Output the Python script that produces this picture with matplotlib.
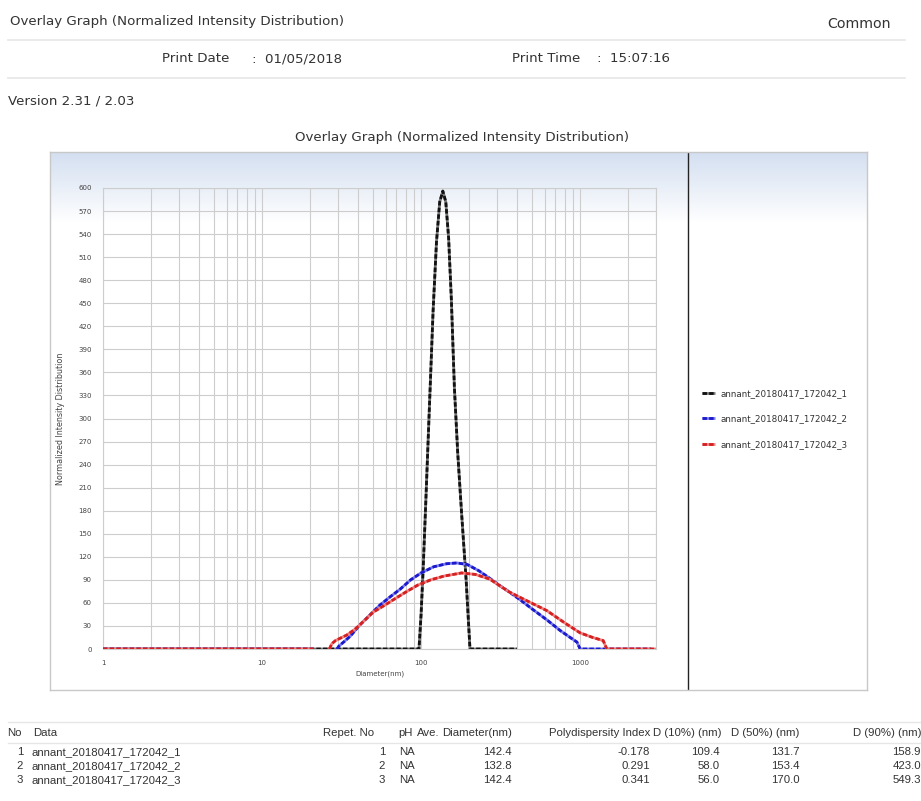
import numpy as np
import matplotlib
matplotlib.use("Agg")
import matplotlib.pyplot as plt
from matplotlib.lines import Line2D
from matplotlib.ticker import FixedLocator, NullFormatter, LogLocator

# ---------------- data ----------------
series_names = ["annant_20180417_172042_1", "annant_20180417_172042_2", "annant_20180417_172042_3"]

black_d = [1, 97, 100, 103, 107, 112, 119, 125, 131, 137, 143, 149, 155, 162, 170, 180, 192, 198, 203, 400]
black_i = [0, 0, 45, 103, 190, 298, 440, 530, 582, 596, 582, 535, 455, 340, 255, 175, 90, 40, 0, 0]

blue_d = [1, 21, np.nan, 29.6, 30.5, 33, 36, 41, 47, 55, 64, 74, 86, 100, 120, 145, 168, 195, 230, 270, 320, 360,
          420, 500, 617, 750, 880, 955, 1000, 2800]
blue_i = [0, 0, np.nan, 0, 4, 10, 17, 31, 43, 57, 68, 78, 90, 99, 107, 111, 112, 110, 102, 92, 81, 74,
          64, 52, 38, 24, 14, 9, 0, 0]

red_d = [1, 21, np.nan, 26.5, 27.5, 29, 31, 34, 38, 41, 50, 58, 68, 80, 95, 115, 140, 180, 220, 270, 360,
         450, 617, 800, 1000, 1200, 1396, 1472, 3000]
red_i = [0, 0, np.nan, 0, 7, 11, 14, 18, 25, 31, 48, 56, 65, 74, 83, 90, 95, 99, 97, 91, 74,
         64, 50, 34, 21, 15, 11, 0, 0]

y_ticks = list(range(0, 601, 30))
x_ticks = [1, 10, 100, 1000]
x_tick_labels = ["1", "10", "100", "1000"]

table_cols = ["No", "Data", "Repet. No", "pH", "Ave.", "Diameter(nm)", "Polydispersity Index",
              "D (10%) (nm)", "D (50%) (nm)", "D (90%) (nm)"]
row_no = ["1", "2", "3"]
row_repet = ["1", "2", "3"]
row_ph = ["NA", "NA", "NA"]
row_diam = ["142.4", "132.8", "142.4"]
row_pdi = ["-0.178", "0.291", "0.341"]
row_d10 = ["109.4", "58.0", "56.0"]
row_d50 = ["131.7", "153.4", "170.0"]
row_d90 = ["158.9", "423.0", "549.3"]

# ---------------- figure ----------------
W, H = 921, 801
plt.rcParams['font.family'] = ['DejaVu Sans']
fig = plt.figure(figsize=(W / 100, H / 100), dpi=100)
fig.patch.set_facecolor("white")


def fx(x):
    return x / W


def fy(y):
    return 1 - y / H


def T(x, y, s, size=9.6, ha="left", color="#333333", **kw):
    fig.text(fx(x), fy(y), s, ha=ha, va="center", fontsize=size, color=color, **kw)


# header
T(10, 21, "Overlay Graph (Normalized Intensity Distribution)")
T(891, 24, "Common", ha="right", size=10.2)
T(162, 59, "Print Date")
T(252, 59, ":  01/05/2018")
T(512, 59, "Print Time")
T(597, 59, ":  15:07:16")
T(8, 101, "Version 2.31 / 2.03")
for yy in (40, 78):
    fig.add_artist(Line2D([fx(8), fx(905)], [fy(yy), fy(yy)], color="#e6e6e6", lw=1.2))

# chart title
T(462, 137, "Overlay Graph (Normalized Intensity Distribution)", ha="center")

# chart background box
bx0, bx1, by0, by1 = 50, 867, 152, 690
bg = fig.add_axes([fx(bx0), fy(by1), fx(bx1) - fx(bx0), fy(by0) - fy(by1)])
nrow = by1 - by0
t = np.clip(np.arange(nrow) / 70.0, 0, 1)[:, None]
top = np.array([0.83, 0.875, 0.945])
img = top[None, None, :] * (1 - t[..., None]) + np.ones(3)[None, None, :] * t[..., None]
bg.imshow(img, aspect="auto", extent=[0, 1, 0, 1], interpolation="bilinear")
bg.set_xlim(0, 1)
bg.set_ylim(0, 1)
bg.set_xticks([])
bg.set_yticks([])
for s in bg.spines.values():
    s.set_color("#c8c8c8")
    s.set_linewidth(1.0)
divx = (688 - bx0) / (bx1 - bx0)
bg.plot([divx, divx], [0, 1], color="#222222", lw=1.0)

# main axes
ax = fig.add_axes([fx(103), fy(649), fx(656) - fx(103), fy(188) - fy(649)])
ax.patch.set_alpha(0)
ax.set_xscale("log")
ax.set_xlim(1, 3000)
ax.set_ylim(0, 600)
ax.xaxis.set_major_locator(FixedLocator(x_ticks))
ax.set_xticklabels(x_tick_labels)
ax.xaxis.set_minor_locator(LogLocator(base=10, subs=np.arange(2, 10)))
ax.xaxis.set_minor_formatter(NullFormatter())
ax.set_yticks(y_ticks)
ax.tick_params(which="both", length=0, labelsize=5, labelcolor="#444444")
ax.tick_params(axis="y", pad=8)
ax.tick_params(axis="x", pad=8)
ax.grid(which="both", axis="x", color="#cdcdcd", lw=0.8)
ax.grid(which="major", axis="y", color="#cdcdcd", lw=0.8)
for s in ax.spines.values():
    s.set_color("#cdcdcd")
    s.set_linewidth(0.8)
ax.set_xlabel("Diameter(nm)", fontsize=5, color="#444444", labelpad=3)
ax.set_ylabel("Normalized Intensity Distribution", fontsize=5.8, color="#444444", labelpad=10)


def curve(d, i, dark, light, z):
    a, = ax.plot(d, i, color=light, lw=2.0, zorder=z, solid_capstyle="butt")
    b, = ax.plot(d, i, color=dark, lw=2.0, zorder=z + 0.1, linestyle=(0, (1.6, 0.8)))
    return (a, b)


h1 = curve(black_d, black_i, "#111111", "#777777", 3)
h2 = curve(blue_d, blue_i, "#1a1acc", "#7a7aee", 4)
h3 = curve(red_d, red_i, "#d42020", "#f08080", 5)

ax.legend([h1, h2, h3], series_names, loc="center left",
          bbox_to_anchor=(fx(694), fy(419)), bbox_transform=fig.transFigure,
          frameon=False, fontsize=6.3, handlelength=1.5, handletextpad=0.6,
          labelspacing=1.9, labelcolor="#333333")

# table
for yy in (722, 743):
    fig.add_artist(Line2D([fx(8), fx(921)], [fy(yy), fy(yy)], color="#e6e6e6", lw=1.0))
ts = 8.2
tf = "Liberation Sans"
T(7, 733, table_cols[0], size=ts, family=tf)
T(33, 733, table_cols[1], size=ts, family=tf)
T(323, 733, table_cols[2], size=ts, family=tf)
T(398, 733, table_cols[3], size=ts, family=tf)
T(417, 733, table_cols[4], size=ts, family=tf)
T(512, 733, table_cols[5], size=ts, ha="right", family=tf)
T(650, 733, table_cols[6], size=ts, ha="right", family=tf)
T(721, 733, table_cols[7], size=ts, ha="right", family=tf)
T(799, 733, table_cols[8], size=ts, ha="right", family=tf)
T(921, 733, table_cols[9], size=ts, ha="right", family=tf)
for k, yy in enumerate((752, 766, 780)):
    T(23, yy, row_no[k], size=ts, ha="right", family=tf)
    T(31, yy, series_names[k], size=ts, family=tf)
    T(385, yy, row_repet[k], size=ts, ha="right", family=tf)
    T(399, yy, row_ph[k], size=ts, family=tf)
    T(512, yy, row_diam[k], size=ts, ha="right", family=tf)
    T(650, yy, row_pdi[k], size=ts, ha="right", family=tf)
    T(720, yy, row_d10[k], size=ts, ha="right", family=tf)
    T(800, yy, row_d50[k], size=ts, ha="right", family=tf)
    T(921, yy, row_d90[k], size=ts, ha="right", family=tf)

fig.savefig("out.png", dpi=100)
